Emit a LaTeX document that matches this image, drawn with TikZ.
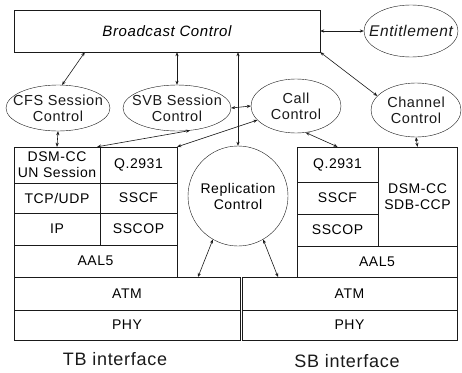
\documentclass[tikz,border=0pt]{standalone}
\usepackage{fontspec}
\setmainfont[LetterSpace=4]{Liberation Sans}
\usetikzlibrary{calc,arrows.meta,shapes.geometric}
\definecolor{inkc}{HTML}{1A1A1A}
\tikzset{
  ar/.style={{Stealth[length=4pt,width=3.2pt]}-{Stealth[length=4pt,width=3.2pt]},semithick,inkc},
  cell/.style={draw=inkc,thin,inner sep=0pt,align=center,font=\fontsize{14}{16}\selectfont},
  ell/.style={draw=inkc,thin,ellipse,inner sep=0pt},
  etxt/.style={align=center,font=\fontsize{14.5}{16}\selectfont,inkc},
  lab/.style={font=\fontsize{18}{20}\selectfont,inkc}
}

\begin{document}
\begin{tikzpicture}[x=1pt,y=-1pt]
\useasboundingbox[fill=white] (0,0) rectangle (462,372);
% control layer
\node[cell,minimum width=306,minimum height=42,font=\fontsize{15}{17}\selectfont\itshape] (bc) at (167,31) {Broadcast Control};
\node[ell,minimum width=94,minimum height=52,label={[etxt,font=\fontsize{15.5}{17}\selectfont\itshape]center:Entitlement}] (ent) at (411,31) {};
\node[ell,minimum width=104,minimum height=46,label={[etxt]center:{CFS Session\\Control}}] (cfs) at (58,108) {};
\node[ell,minimum width=108,minimum height=46,label={[etxt]center:{SVB Session\\Control}}] (svb) at (177,108) {};
\node[ell,minimum width=90,minimum height=54,label={[etxt]center:{Call\\Control}}] (call) at (296,106) {};
\node[ell,minimum width=90,minimum height=54,label={[etxt]center:{Channel\\Control}}] (chan) at (416,110) {};
\node[cell,circle,minimum size=100] (repl) at (238,196) {Replication\\Control};

% TB stack
\node[cell,minimum width=86,minimum height=36] (dsm) at (57,165) {DSM-CC\\UN Session};
\node[cell,minimum width=77,minimum height=36] (q2931L) at (138.5,165) {Q.2931};
\node[cell,minimum width=86,minimum height=30] (tcp) at (57,198) {TCP/UDP};
\node[cell,minimum width=77,minimum height=30] (sscfL) at (138.5,198) {SSCF};
\node[cell,minimum width=86,minimum height=32] (ip) at (57,229) {IP};
\node[cell,minimum width=77,minimum height=32] (sscopL) at (138.5,229) {SSCOP};
\node[cell,minimum width=163,minimum height=32] (aalL) at (95.5,261) {AAL5};
\node[cell,minimum width=226,minimum height=33] (atmL) at (127,293.5) {ATM};
\node[cell,minimum width=226,minimum height=30] (phyL) at (127,325) {PHY};

% SB stack
\node[cell,minimum width=81,minimum height=35] (q2931R) at (337.5,164.5) {Q.2931};
\node[cell,minimum width=81,minimum height=32] (sscfR) at (337.5,198) {SSCF};
\node[cell,minimum width=81,minimum height=32] (sscopR) at (337.5,230) {SSCOP};
\node[cell,minimum width=79,minimum height=99] (sdb) at (417.5,196.5) {DSM-CC\\SDB-CCP};
\node[cell,minimum width=160,minimum height=31] (aalR) at (377,261.5) {AAL5};
\node[cell,minimum width=215,minimum height=33] (atmR) at (349.5,293.5) {ATM};
\node[cell,minimum width=215,minimum height=30] (phyR) at (349.5,325) {PHY};

\node[lab] (tb) at (115,359) {TB interface};
\node[lab] (sb) at (347,361) {SB interface};

\coordinate (bcl) at ($(bc.south west)+(71,0)$);
\coordinate (rl) at (198,277);
\coordinate (rr) at (278,277);

% connectors
\draw[ar] (bc.east) -- (ent.west);
\draw[ar] (cfs.80) -- (bcl);
\draw[ar] (svb.north) -- (svb.north |- bc.south);
\draw[ar] (repl.north) -- (repl.north |- bc.south);
\draw[ar] (bc.south east) -- (chan.160);
\draw[ar] (svb.east) -- (call.west);
\draw[ar] (cfs.south) -- (dsm.north);
\draw[ar] (svb.-60) -- ([xshift=-3pt]dsm.north east);
\draw[ar] (call.200) -- (q2931L.north east);
\draw[ar] (call.-70) -- (q2931R.north);
\draw[ar] (chan.south) -- (sdb.north);
\draw[ar] (repl.240) -- (rl);
\draw[ar] (repl.-60) -- (rr);
\end{tikzpicture}
\end{document}
